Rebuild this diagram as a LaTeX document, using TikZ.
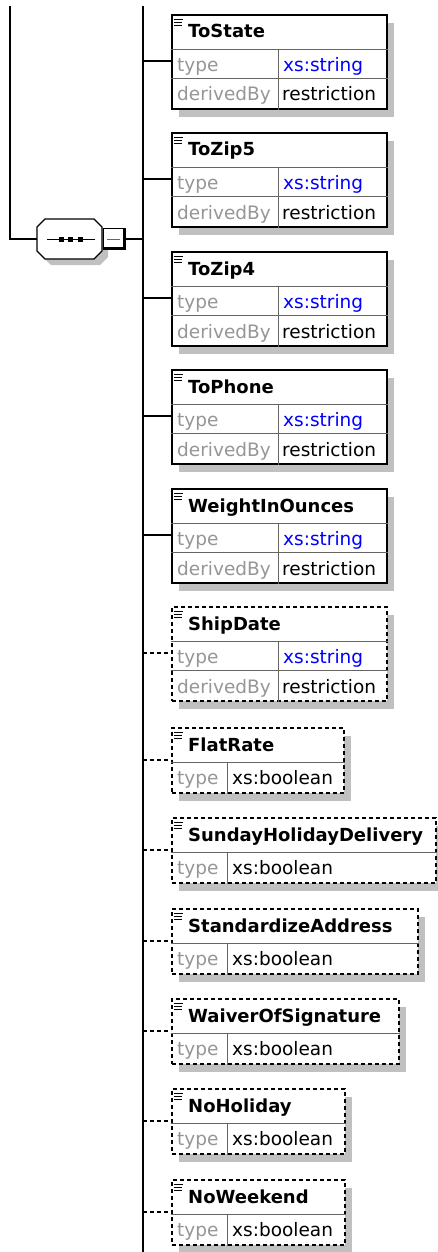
\documentclass[tikz,border=0pt]{standalone}
\usepackage{fontspec}
\setmainfont{DejaVu Sans}
\usetikzlibrary{shadows}
\tikzset{>=stealth}

\definecolor{typeblue}{RGB}{0,0,255}
\definecolor{keygray}{RGB}{150,150,150}
\definecolor{shadowgray}{RGB}{192,192,192}
\definecolor{divgray}{RGB}{100,100,100}

\tikzset{
  wire/.style={line width=2pt},
  link/.style={line width=2pt},
  optlink/.style={link, dash pattern=on 4pt off 3pt},
  elem/.style={draw, line width=2pt, fill=white, anchor=north west, inner sep=0pt,
    drop shadow={shadow xshift=7pt, shadow yshift=-8pt, fill=shadowgray, opacity=1}},
  optelem/.style={elem, dash pattern=on 4pt off 3pt},
  rowline/.style={divgray, line width=1pt},
  icon/.style={line width=1pt},
  ttl/.style={anchor=base west, inner sep=0pt, font=\fontsize{18}{20}\selectfont\bfseries},
  key/.style={anchor=base west, inner sep=0pt, keygray, font=\fontsize{18.5}{20}\selectfont},
  val/.style={anchor=base west, inner sep=0pt, font=\fontsize{18.5}{20}\selectfont}
}

% title bar of an element box
\newcommand{\elemtitle}[2]{%
  \draw[icon] ([xshift=3pt,yshift=-5.5pt]#1.north west) -- ++(9,0)
    ([xshift=3pt,yshift=-8.5pt]#1.north west) -- ++(8,0)
    ([xshift=3pt,yshift=-11.5pt]#1.north west) -- ++(8,0);
  \node[ttl] at ([xshift=17pt,yshift=-24pt]#1.north west) {#2};
  \draw[rowline] ([yshift=-35.5pt]#1.north west) -- ([yshift=-35.5pt]#1.north east);
}
% rows type / derivedBy
\newcommand{\strrows}[1]{%
  \draw[rowline] ([yshift=-64.5pt]#1.north west) -- ([yshift=-64.5pt]#1.north east);
  \draw[rowline] ([xshift=107.5pt,yshift=-35.5pt]#1.north west) -- ([xshift=107.5pt]#1.south west);
  \node[key] at ([xshift=6pt,yshift=-57.5pt]#1.north west) {type};
  \node[val, typeblue] at ([xshift=112pt,yshift=-57.5pt]#1.north west) {xs:string};
  \node[key] at ([xshift=6pt,yshift=-87pt]#1.north west) {derivedBy};
  \node[val] at ([xshift=111pt,yshift=-87pt]#1.north west) {restriction};
}
% row type only
\newcommand{\boolrows}[1]{%
  \draw[rowline] ([xshift=56.5pt,yshift=-35.5pt]#1.north west) -- ([xshift=56.5pt]#1.south west);
  \node[key] at ([xshift=6pt,yshift=-57.5pt]#1.north west) {type};
  \node[val] at ([xshift=61pt,yshift=-57.5pt]#1.north west) {xs:boolean};
}

\begin{document}
\begin{tikzpicture}[x=1pt, y=-1pt]
  \useasboundingbox (0,0) rectangle (438,1252);

  % spine
  \coordinate (root) at (10,6);
  \coordinate (spinetop) at (143,6);
  \coordinate (spinebot) at (143,1252);
  \draw[wire] (spinetop) -- (spinebot);

  % sequence compositor
  \node[inner sep=0pt, minimum width=65pt, minimum height=40pt] (seq) at (69.5,239) {};
  \fill[shadowgray, shift={(6,6)}] (37,227) -- (45,219) -- (94,219) -- (102,227)
    -- (102,251) -- (94,259) -- (45,259) -- (37,251) -- cycle;
  \filldraw[fill=white, line width=1.2pt] (37,227) -- (45,219) -- (94,219) -- (102,227)
    -- (102,251) -- (94,259) -- (45,259) -- (37,251) -- cycle;
  \draw[line width=1.2pt] (47,239.5) -- (95,239.5);
  \foreach \sx in {61,70.5,80}
    \fill (\sx-2.5,237) rectangle ++(5,5);
  \node[draw, fill=white, line width=1pt, minimum width=22pt, minimum height=21pt, inner sep=0pt] (fold) at (114.5,239) {};
  \draw[line width=3pt] ([xshift=-1.5pt]fold.north east) -- ([xshift=-1.5pt,yshift=1.5pt]fold.south east)
    -- ([yshift=1.5pt]fold.south west);
  \draw[line width=1pt, divgray] ([xshift=4pt,yshift=-0.5pt]fold.west) -- ([xshift=-6pt,yshift=-0.5pt]fold.east);
  \draw[wire] (root) |- (seq.west);
  \draw[wire] (fold.east) -- (spinetop |- fold.east);

  % required elements
  \foreach \nm/\ty in {ToState/14, ToZip5/132, ToZip4/251, ToPhone/369, WeightInOunces/488} {
    \draw[link] (spinetop |- 0,\ty+47) -- (171,\ty+47);
    \node[elem, minimum width=215pt, minimum height=94pt] (\nm) at (171,\ty) {};
    \elemtitle{\nm}{\nm}
    \strrows{\nm}
  }

  % optional elements
  \draw[optlink] (spinetop |- 0,653) -- (171,653);
  \node[optelem, minimum width=215pt, minimum height=94pt] (ShipDate) at (171,606) {};
  \elemtitle{ShipDate}{ShipDate}
  \strrows{ShipDate}

  \foreach \nm/\ty/\w in {FlatRate/727/172, SundayHolidayDelivery/817/264,
      StandardizeAddress/908/246, WaiverOfSignature/998/227,
      NoHoliday/1088/173, NoWeekend/1179/173} {
    \draw[optlink] (spinetop |- 0,\ty+33) -- (171,\ty+33);
    \node[optelem, minimum width=\w pt, minimum height=65pt] (\nm) at (171,\ty) {};
    \elemtitle{\nm}{\nm}
    \boolrows{\nm}
  }
\end{tikzpicture}
\end{document}
